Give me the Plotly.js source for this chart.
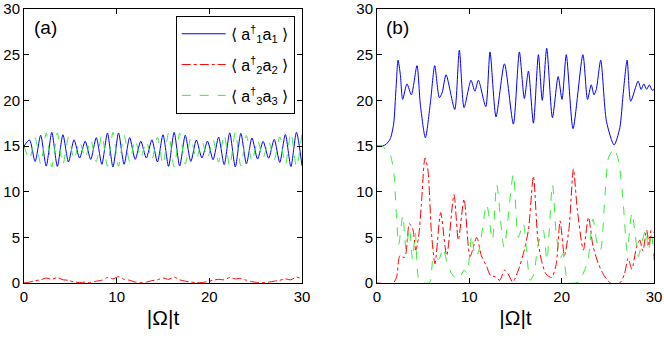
<!DOCTYPE html>
<html>
<head>
<meta charset="utf-8">
<script src="https://cdn.plot.ly/plotly-3.0.1.min.js"></script>
<style>html,body{margin:0;padding:0;background:#fff;}#chart{width:664px;height:338px;}</style>
</head>
<body>
<div id="chart"></div>
<script>
// ---------- Panel (a) ----------
const tA = [0,0.6,1.2,1.8,2.4,3.0,3.6,4.2,4.8,5.4,6.0,6.6,7.2,7.8,8.4,9.0,9.6,10.2,10.8,11.4,12.0,12.6,13.2,13.8,14.4,15.0,15.6,16.2,16.8,17.4,18.0,18.6,19.2,19.8,20.4,21.0,21.6,22.2,22.8,23.4,24.0,24.6,25.2,25.8,26.4,27.0,27.6,28.2,28.8,29.4,30.0];
const blueA = [15.0,15.65,13.3,16.18,12.79,16.5,12.77,16.23,13.25,15.68,13.68,15.52,13.53,15.92,13.0,16.42,12.7,16.42,13.0,15.92,13.53,15.52,13.68,15.68,13.25,16.23,12.77,16.5,12.8,16.18,13.3,15.65,13.69,15.53,13.5,15.97,12.95,16.44,12.7,16.39,13.04,15.88,13.57,15.5,13.66,15.72,13.2,16.27,12.75,16.5,12.82];
const greenA = [15.0,13.55,15.9,13.02,16.41,12.7,16.43,12.97,15.95,13.52,15.52,13.68,15.67,13.28,16.2,12.78,16.5,12.78,16.2,13.28,15.67,13.68,15.52,13.52,15.95,12.97,16.43,12.7,16.4,13.02,15.9,13.55,15.51,13.67,15.7,13.23,16.25,12.76,16.5,12.81,16.16,13.32,15.63,13.7,15.54,13.48,16.0,12.93,16.45,12.7,16.38];
const redA = [0,0.1,0.25,0.35,0.55,0.4,0.6,0.35,0.3,0.1,0.05,0.1,0.05,0.2,0.3,0.6,0.45,0.7,0.4,0.3,0.1,0.05,0.1,0.25,0.35,0.55,0.4,0.65,0.35,0.2,0.1,0.05,0.05,0.15,0.3,0.4,0.35,0.6,0.45,0.5,0.3,0.15,0.05,0.05,0.1,0.2,0.3,0.45,0.35,0.65,0.4];

// ---------- Panel (b) ----------
const tB1 = [0,0.6,1.0,1.44,1.8,2.06,2.28,2.53,2.78,3.25,3.72,4.33,4.7,5.24,5.8,6.25,6.75,7.05,7.48,8.42,8.92,9.43,10.18,10.6,10.98,11.78,12.24,12.89,13.8,14.77,15.42,15.96,16.4,16.94,17.48,17.9,18.38,19.0,19.62,20.04,20.5,21.23,22.3,22.8,23.2,23.5,23.75,24.23,24.85,25.68,26.3,26.65,27.09,27.48,28.28,28.6,28.9,29.2,29.5,29.8,30];
const blueB = [15.0,15.0,15.2,15.8,17.4,21.3,24.4,22.8,20.1,21.8,20.6,23.8,19.5,15.9,19.9,23.8,20.3,20.8,22.8,19.0,25.5,19.2,22.2,21.0,22.2,19.3,25.3,18.2,24.0,17.4,25.3,20.2,23.2,17.5,25.0,20.0,25.7,18.1,22.6,20.1,25.0,16.9,25.0,20.1,21.7,20.6,21.2,24.4,17.7,15.1,17.0,20.6,24.4,19.9,22.1,21.2,21.8,21.2,21.7,21.1,21.2];

const tB2 = [0,1.77,2.13,2.49,3.0,3.5,3.9,4.2,4.5,4.8,5.2,5.5,5.9,6.28,6.9,7.55,8.34,8.81,9.43,10.08,10.8,11.3,11.88,12.3,12.78,13.3,13.8,14.2,14.7,15.3,15.85,16.4,16.94,17.4,17.8,18.3,18.9,19.4,19.83,20.3,20.8,21.27,21.7,22.35,22.9,23.4,23.98,24.6,25.3,26.3,26.8,27.2,27.6,28.1,28.46,28.8,29.2,29.5,29.7,30];
const redB = [0,0,0.7,3.0,2.8,6.5,5.8,3.6,5.0,8.5,13.7,12.5,5.5,2.1,7.7,3.0,9.7,4.7,9.2,2.9,5.0,3.0,1.8,0.8,0.7,0.3,1.4,1.0,0.1,1.4,3.2,5.8,11.7,5.0,2.5,1.0,0.6,2.0,6.8,3.0,6.0,12.5,8.0,3.6,7.2,4.0,2.1,0.8,0,0,1.0,2.7,1.5,3.9,4.7,3.5,5.8,4.0,5.8,5.5];

const tB3 = [0,0.6,1.41,1.84,2.06,2.35,2.8,3.15,3.5,3.85,4.15,4.55,5.0,5.7,6.14,6.7,7.15,7.6,8.1,8.6,9.0,9.4,9.75,10.26,10.63,11.0,11.88,12.5,12.97,13.76,14.77,15.3,15.85,16.2,16.58,17.0,17.4,18.0,18.4,19.0,19.45,19.9,20.15,20.7,21.5,22.0,22.4,22.85,23.4,23.9,24.2,24.7,25.1,25.7,26.2,26.65,27.1,27.6,28.0,28.3,28.7,29.1,29.4,29.7,30];
const greenB = [15.0,14.95,14.1,11.9,8.3,4.2,7.4,3.6,6.0,2.6,5.5,0.3,0,0.05,2.9,2.6,3.8,2.2,1.0,0.5,0.6,1.4,1.1,5.2,2.9,3.4,8.6,4.7,10.8,3.9,11.9,5.0,6.5,3.5,0.3,1.0,4.0,5.8,2.5,10.8,5.0,2.8,3.2,0.05,0,0.2,1.2,2.5,7.0,4.0,3.6,9.7,13.8,14.7,13.2,9.0,3.5,7.7,5.0,2.9,4.5,5.8,3.5,5.5,2.5];

const xTicks = [0,10,20,30];
const yTicks = [0,5,10,15,20,25,30];
const names = ['⟨ a<sup>†</sup><sub>1</sub>a<sub>1</sub> ⟩','⟨ a<sup>†</sup><sub>2</sub>a<sub>2</sub> ⟩','⟨ a<sup>†</sup><sub>3</sub>a<sub>3</sub> ⟩'];
const colors = ['#0000ff','#ff0000','#33ee33'];

const FONT = 'Arial, "Liberation Sans", sans-serif';
const sp = {shape:'spline', smoothing:0.7, width:1};

const traces = [
  {x:tA, y:blueA, name:names[0], legendgroup:'g1', mode:'lines', line:Object.assign({color:colors[0], dash:'solid'}, sp), xaxis:'x', yaxis:'y'},
  {x:tA, y:redA, name:names[1], legendgroup:'g2', mode:'lines', line:Object.assign({color:colors[1], dash:'dashdot'}, sp), xaxis:'x', yaxis:'y'},
  {x:tA, y:greenA, name:names[2], legendgroup:'g3', mode:'lines', line:Object.assign({color:colors[2], dash:'dash'}, sp), xaxis:'x', yaxis:'y'},
  {x:tB1, y:blueB, mode:'lines', showlegend:false, line:Object.assign({color:colors[0], dash:'solid'}, sp), xaxis:'x2', yaxis:'y2'},
  {x:tB2, y:redB, mode:'lines', showlegend:false, line:Object.assign({color:colors[1], dash:'dashdot'}, sp), xaxis:'x2', yaxis:'y2'},
  {x:tB3, y:greenB, mode:'lines', showlegend:false, line:Object.assign({color:colors[2], dash:'dash'}, sp), xaxis:'x2', yaxis:'y2'}
];

function xax(dom, anchor){
  return {domain:dom, anchor:anchor, range:[0,30], tickvals:xTicks, ticks:'inside', ticklen:5, tickcolor:'#000',
    showline:true, linecolor:'#000', linewidth:1, mirror:'ticks', showgrid:false, zeroline:false,
    tickfont:{family:FONT, size:15, color:'#000'}, automargin:false, ticklabeloverflow:'allow',
    title:{text:'|Ω|t', font:{family:FONT, size:21, color:'#000'}, standoff:6}};
}
function yax(anchor){
  return {domain:[0,1], anchor:anchor, range:[0,30], tickvals:yTicks, ticks:'inside', ticklen:5, tickcolor:'#000',
    showline:true, linecolor:'#000', linewidth:1, mirror:'ticks', showgrid:false, zeroline:false,
    tickfont:{family:FONT, size:15, color:'#000'}, automargin:false, ticklabeloverflow:'allow'};
}

const layout = {
  width:664, height:338,
  margin:{l:24, r:10, t:9, b:55},
  paper_bgcolor:'#fff', plot_bgcolor:'#fff',
  font:{family:FONT, color:'#000'},
  xaxis:xax([0,0.4413],'y'),
  yaxis:yax('x'),
  xaxis2:xax([0.5603,1.0],'y2'),
  yaxis2:yax('x2'),
  showlegend:true,
  legend:{x:0.2408, y:0.975, xanchor:'left', yanchor:'top', bgcolor:'#fff', bordercolor:'#000', borderwidth:1,
    font:{family:FONT, size:16, color:'#000'}, itemwidth:44, tracegroupgap:7},
  annotations:[
    {xref:'x', yref:'y', x:2.27, y:28.0, text:'(a)', showarrow:false, font:{family:FONT, size:19, color:'#000'}},
    {xref:'x2', yref:'y2', x:2.27, y:28.0, text:'(b)', showarrow:false, font:{family:FONT, size:19, color:'#000'}}
  ]
};

Plotly.newPlot('chart', traces, layout, {staticPlot:true, displayModeBar:false});
</script>
</body>
</html>
